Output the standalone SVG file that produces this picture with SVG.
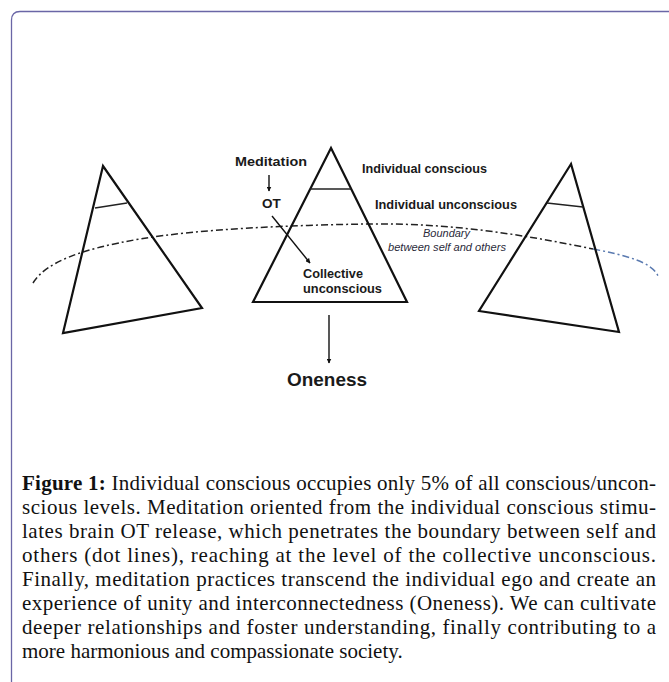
<svg xmlns="http://www.w3.org/2000/svg" width="669" height="682" viewBox="0 0 669 682">
<defs>
<style>
.tri{fill:none;stroke:#111;stroke-width:2.2;stroke-linejoin:miter}
.lvl{fill:none;stroke:#222;stroke-width:1.5}
.lbl{font-family:"Liberation Sans",Arial,sans-serif;font-weight:bold;fill:#1a1a1a}
.it{font-family:"Liberation Sans",Arial,sans-serif;font-style:italic;fill:#2a2a3a;font-size:11px}
.cap{font-family:"Liberation Serif","Times New Roman",serif;font-size:21px;fill:#111}
.con{fill:none;stroke:#111;stroke-width:1.4}
.bnd{fill:none;stroke-width:1.5;stroke-dasharray:7 3 2 3}
</style>
<marker id="ah" viewBox="0 0 10 10" refX="9" refY="5" markerWidth="5" markerHeight="5" orient="auto" markerUnits="userSpaceOnUse">
<path d="M0,0 L10,5 L0,10 z" fill="#111"/>
</marker>
</defs>
<rect width="669" height="682" fill="#fff"/>
<g id="frame">
<path d="M11.5,682 V20 Q11.5,11.5 20,11.5 H669" fill="none" stroke="#6a66a6" stroke-width="1.3"/>
</g>
<g id="boundary">
<path class="bnd" stroke="#222" d="M33,283 C45,263 80,249 140,239 S290,225 370,224 S520,234 593,249"/>
<path class="bnd" stroke="#5a7ab0" d="M593,249 C625,255 652,262 658,276"/>
</g>
<g id="triangle-left">
<path class="tri" d="M103,166 L63,333 L202,308 Z" stroke-width="2.6"/>
<path class="lvl" d="M95,208 L127,203"/>
</g>
<g id="triangle-center">
<path class="tri" d="M331,148 L253,302 L407,302 Z"/>
<path class="lvl" d="M310,189 L351,189"/>
</g>
<g id="triangle-right">
<path class="tri" d="M571,164 L479,311 L619,332 Z" stroke-width="2.6"/>
<path class="lvl" d="M547,203 L583,207"/>
</g>
<g id="connectors">
<path class="con" d="M269,175 L269,191" marker-end="url(#ah)"/>
<path class="con" d="M272,216 L310,263" marker-end="url(#ah)"/>
<path class="con" d="M329,315 L329,363" marker-end="url(#ah)"/>
</g>
<g id="labels">
<text class="lbl" x="235" y="166" font-size="13.5" textLength="72" lengthAdjust="spacingAndGlyphs">Meditation</text>
<text class="lbl" x="262" y="208" font-size="13.5">OT</text>
<text class="lbl" x="362" y="173" font-size="12.6" textLength="125" lengthAdjust="spacingAndGlyphs">Individual conscious</text>
<text class="lbl" x="375" y="209" font-size="12.7" textLength="142" lengthAdjust="spacingAndGlyphs">Individual unconscious</text>
<text class="it" x="423" y="237" textLength="47" lengthAdjust="spacingAndGlyphs">Boundary</text>
<text class="it" x="388" y="251" textLength="118" lengthAdjust="spacingAndGlyphs">between self and others</text>
<text class="lbl" x="303" y="278" font-size="12.8" textLength="60" lengthAdjust="spacingAndGlyphs">Collective</text>
<text class="lbl" x="303" y="293" font-size="12.8" textLength="79" lengthAdjust="spacingAndGlyphs">unconscious</text>
<text class="lbl" x="287" y="386" font-size="19" textLength="80" lengthAdjust="spacingAndGlyphs">Oneness</text>
</g>
<g id="caption" class="cap">
<text x="22" y="490" textLength="634" lengthAdjust="spacing"><tspan font-weight="bold">Figure 1:</tspan> Individual conscious occupies only 5% of all conscious/uncon-</text>
<text x="22" y="514" textLength="634" lengthAdjust="spacing">scious levels. Meditation oriented from the individual conscious stimu-</text>
<text x="22" y="538" textLength="634" lengthAdjust="spacing">lates brain OT release, which penetrates the boundary between self and</text>
<text x="22" y="562" textLength="634" lengthAdjust="spacing">others (dot lines), reaching at the level of the collective unconscious.</text>
<text x="22" y="586" textLength="634" lengthAdjust="spacing">Finally, meditation practices transcend the individual ego and create an</text>
<text x="22" y="610" textLength="634" lengthAdjust="spacing">experience of unity and interconnectedness (Oneness). We can cultivate</text>
<text x="22" y="634" textLength="634" lengthAdjust="spacing">deeper relationships and foster understanding, finally contributing to a</text>
<text x="22" y="658">more harmonious and compassionate society.</text>
</g>
</svg>
